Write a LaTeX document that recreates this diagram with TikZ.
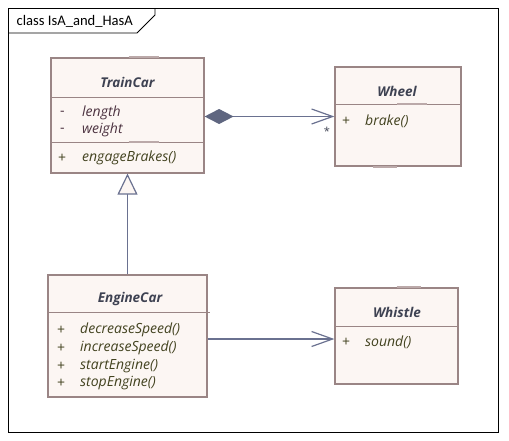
\documentclass[tikz,border=0pt]{standalone}
\usepackage{fontspec}
\setmainfont{Open Sans}
\newfontfamily\titlefont{Carlito}
\usetikzlibrary{arrows.meta}
\definecolor{boxfill}{HTML}{FCF6F3}
\definecolor{boxline}{HTML}{9A8585}
\definecolor{namecol}{HTML}{3E4252}
\definecolor{attrcol}{HTML}{4C3240}
\definecolor{methcol}{HTML}{42421F}
\definecolor{conncol}{HTML}{6A7190}
\definecolor{diamcol}{HTML}{5F6680}
\definecolor{barcol}{HTML}{BBA9A9}
\tikzset{
  classbox/.style={draw=boxline, fill=boxfill, line width=1.2pt, inner sep=0pt, rectangle},
  divider/.style={draw=boxline, line width=1pt},
  sketchbar/.style={draw=barcol, line width=2pt},
  namest/.style={font=\bfseries\itshape\fontsize{13.5}{16}\selectfont, text=namecol, inner sep=0pt},
  attrst/.style={font=\itshape\fontsize{14}{16}\selectfont, text=attrcol, inner sep=0pt, anchor=west},
  methst/.style={font=\itshape\fontsize{14}{16}\selectfont, text=methcol, inner sep=0pt, anchor=west},
  visst/.style={font=\fontsize{14}{16}\selectfont, inner sep=0pt, anchor=west},
  conn/.style={draw=conncol, line width=1.2pt},
}
\begin{document}
\begin{tikzpicture}[x=1pt,y=-1pt]
\useasboundingbox (0,0) rectangle (509,440);
% frame
\draw[black, line width=0.9pt] (8.5,8.5) rectangle (498,432);
\draw[black, line width=0.9pt] (8.5,33) -- (137,33) -- (155,15) -- (155,8.5);
\node[anchor=west, inner sep=0pt, font=\titlefont\fontsize{14.6}{16}\selectfont] (title) at (16.5,21) {class IsA\_and\_HasA};

% boxes
\node[classbox, minimum width=153pt, minimum height=115pt] (train) at (127.5,115.5) {};
\node[classbox, minimum width=126pt, minimum height=99pt] (wheel) at (398,116.5) {};
\node[classbox, minimum width=159pt, minimum height=122pt] (engine) at (127.5,336) {};
\node[classbox, minimum width=123pt, minimum height=96pt] (whistle) at (396.5,336) {};

% dividers
\draw[divider] ([yshift=-40pt]train.north west) -- ([yshift=-40pt]train.north east);
\draw[divider] ([yshift=-85pt]train.north west) -- ([yshift=-85pt]train.north east);
\draw[divider] ([yshift=-38pt]wheel.north west) -- ([yshift=-38pt]wheel.north east);
\draw[divider] ([yshift=-38pt]engine.north west) -- ([xshift=2pt,yshift=-38pt]engine.north east);
\draw[divider] ([yshift=-39pt]whistle.north west) -- ([yshift=-39pt]whistle.north east);

% sketch bars
\draw[sketchbar] ([xshift=1pt]train.north) -- ++(30,0);
\draw[sketchbar] ([xshift=1pt,yshift=-85pt]train.north) -- ++(30,0);
\draw[sketchbar] ([xshift=-1pt,yshift=-38pt]wheel.north) -- ++(30,0);
\draw[sketchbar] ([xshift=-25pt]wheel.south) -- ++(24,0);
\draw[sketchbar] ([xshift=0pt]whistle.north) -- ++(24,0);

% TrainCar text
\node[namest] (trainname) at (127.5,82) {TrainCar};
\node[visst, text=attrcol] (tv1) at (60,113) {-};
\node[attrst] (ta1) at (82,113) {length};
\node[visst, text=attrcol] (tv2) at (60,130) {-};
\node[attrst] (ta2) at (82,130) {weight};
\node[visst, text=methcol] (tv3) at (58,158) {+};
\node[methst] (tm1) at (82,158) {engageBrakes()};

% Wheel text
\node[namest] (wheelname) at (397,91) {Wheel};
\node[visst, text=methcol] (wv1) at (342,121) {+};
\node[methst] (wm1) at (365,121) {brake()};

% EngineCar text
\node[namest] (enginename) at (130,299) {EngineCar};
\node[visst, text=methcol] (ev1) at (57,330) {+};
\node[methst] (em1) at (80,330) {decreaseSpeed()};
\node[visst, text=methcol] (ev2) at (57,348) {+};
\node[methst] (em2) at (80,348) {increaseSpeed()};
\node[visst, text=methcol] (ev3) at (57,366) {+};
\node[methst] (em3) at (80,366) {startEngine()};
\node[visst, text=methcol] (ev4) at (57,383) {+};
\node[methst] (em4) at (80,383) {stopEngine()};

% Whistle text
\node[namest] (whistlename) at (397,312) {Whistle};
\node[visst, text=methcol] (hv1) at (342,342) {+};
\node[methst] (hm1) at (365,342) {sound()};

% connectors
\draw[conn, {Diamond[length=29pt,width=15pt,fill=diamcol,color=diamcol]}-{Straight Barb[length=21pt,width=15pt]}]
  (train.east |- wheel.west) -- (wheel.west);
\node[font=\fontsize{11}{12}\selectfont, text=namecol, inner sep=0pt] (mult) at (327,131) {*};
\draw[conn, -{Triangle[length=21pt,width=20pt,fill=boxfill]}] (engine.north) -- (train.south);
\draw[conn, -{Straight Barb[length=21pt,width=15pt]}]
  ([yshift=-3pt]whistle.west -| engine.east) -- ([yshift=-3pt]whistle.west);
\end{tikzpicture}
\end{document}
